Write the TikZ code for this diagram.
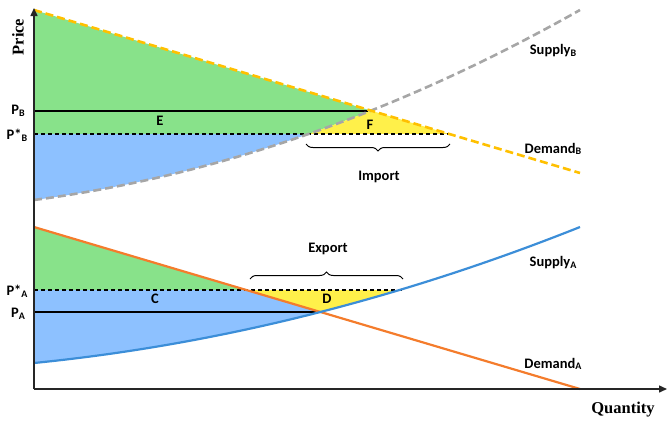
\documentclass[tikz,border=0pt]{standalone}
\usepackage{fontspec}
\setmainfont{Carlito}
\newfontfamily\serifb{Liberation Serif}
\usetikzlibrary{decorations.pathreplacing,arrows.meta}
\definecolor{grn}{HTML}{88E28A}
\definecolor{blu}{HTML}{8DC1FF}
\definecolor{yel}{HTML}{FFF04A}
\definecolor{orgA}{HTML}{F47C2C}
\definecolor{bluA}{HTML}{3C8ED8}
\definecolor{ambB}{HTML}{FFC000}
\definecolor{gryB}{HTML}{A6A6A6}
\newcommand{\sbx}[1]{\raisebox{-0.25ex}{\fontsize{10}{10}\selectfont #1}}
\begin{document}
\begin{tikzpicture}[x=1pt,y=-1pt,
  lab/.style={font=\bfseries\fontsize{14.5}{15}\selectfont, inner sep=1pt},
  axlab/.style={font=\serifb\bfseries\fontsize{16.5}{17}\selectfont, inner sep=1pt},
  pline/.style={line width=1.2pt, black},
  pstar/.style={line width=1.2pt, black, dash pattern=on 4pt off 3pt},
  bracestyle/.style={line width=1pt, black, decorate, decoration={brace, amplitude=7pt}},
  axis/.style={line width=1.5pt, black!85, -{Triangle[length=8pt,width=7pt]}}
]
\useasboundingbox (0,0) rectangle (667,421);

% ---------- key coordinates ----------
\coordinate (O) at (34,389);
\coordinate (Ytop) at (34,8);
\coordinate (Xend) at (667,389);
% market B
\coordinate (DB0) at (34,10);
\coordinate (DB1) at (580,173);
\coordinate (SB0) at (34,200);
\coordinate (SB1) at (580,10);
\coordinate (PBl) at (34,111);
\coordinate (EB) at (368,111);
\coordinate (PSBl) at (34,134);
\coordinate (PSBr) at (450,134);
% market A
\coordinate (DA0) at (34,227);
\coordinate (DA1) at (580,389);
\coordinate (SA0) at (34,363);
\coordinate (SA1) at (580,227);
\coordinate (PAl) at (34,312);
\coordinate (EA) at (323,312);
\coordinate (PSAl) at (34,290);
\coordinate (PSAr) at (403,290);

% ---------- fills market B ----------
\begin{scope}
  \clip (DB0) -- (DB1) -- (580,421) -- (34,421) -- cycle;
  \clip (SB0) .. controls (216,176) and (398,112.7) .. (SB1) -- (580,0) -- (34,0) -- cycle;
  \fill[grn] (34,0) rectangle (580,134);
\end{scope}
\begin{scope}
  \clip (DB0) -- (DB1) -- (580,421) -- (34,421) -- cycle;
  \clip (SB0) .. controls (216,176) and (398,112.7) .. (SB1) -- (580,421) -- (34,421) -- cycle;
  \fill[yel] (34,0) rectangle (580,134);
\end{scope}
\begin{scope}
  \clip (SB0) .. controls (216,176) and (398,112.7) .. (SB1) -- (580,0) -- (34,0) -- cycle;
  \fill[blu] (34,134) rectangle (580,215);
\end{scope}

% ---------- fills market A ----------
\begin{scope}
  \clip (DA0) -- (DA1) -- (580,421) -- (34,421) -- cycle;
  \fill[grn] (34,215) rectangle (580,290);
\end{scope}
\begin{scope}
  \clip (DA0) -- (DA1) -- (580,421) -- (34,421) -- cycle;
  \clip (SA0) .. controls (216,344.8) and (398,299.5) .. (SA1) -- (580,215) -- (34,215) -- cycle;
  \fill[blu] (34,290) rectangle (580,389);
\end{scope}
\begin{scope}
  \clip (DA0) -- (DA1) -- (580,215) -- (34,215) -- cycle;
  \clip (SA0) .. controls (216,344.8) and (398,299.5) .. (SA1) -- (580,215) -- (34,215) -- cycle;
  \fill[yel] (34,290) rectangle (580,389);
\end{scope}

% ---------- price lines ----------
\draw[pline] (PBl) -- (EB);
\draw[pstar] (PSBl) -- (PSBr);
\draw[pline] (PAl) -- (EA);
\draw[pstar] (PSAl) -- (PSAr);

% ---------- curves ----------
\draw[gryB, line width=2.6pt, dash pattern=on 8pt off 4pt] (SB0) .. controls (216,176) and (398,112.7) .. (SB1);
\draw[ambB, line width=2.6pt, dash pattern=on 8pt off 4pt] (DB0) -- (DB1);
\draw[orgA, line width=2.2pt] (DA0) -- (DA1);
\draw[bluA, line width=2.2pt] (SA0) .. controls (216,344.8) and (398,299.5) .. (SA1);

% ---------- axes ----------
\draw[axis] (O) -- (Ytop);
\draw[axis] (O) -- (Xend);

% ---------- braces ----------
\coordinate (IBr) at (450,144);
\coordinate (IBl) at (306,144);
\draw[bracestyle] (IBr) -- (IBl);
\coordinate (XBl) at (250,279);
\coordinate (XBr) at (403,279);
\draw[bracestyle] (XBl) -- (XBr);

% ---------- labels ----------
\node[axlab, rotate=90] (price) at (18,37) {Price};
\node[axlab] (qty) at (623,410) {Quantity};
\node[lab] (lPB) at (18,111) {P\sbx{B}};
\node[lab] (lPSB) at (17,135) {P*\sbx{B}};
\node[lab] (lPSA) at (17,291) {P*\sbx{A}};
\node[lab] (lPA) at (18,314) {P\sbx{A}};
\node[lab] (lE) at (160,121) {E};
\node[lab] (lF) at (370,125) {F};
\node[lab] (lC) at (155,299) {C};
\node[lab] (lD) at (327,299) {D};
\node[lab] (lImp) at (379,177) {Import};
\node[lab] (lExp) at (328,249) {Export};
\node[lab] (lSB) at (553,51) {Supply\sbx{B}};
\node[lab] (lDB) at (553,149) {Demand\sbx{B}};
\node[lab] (lSA) at (553,263) {Supply\sbx{A}};
\node[lab] (lDA) at (553,364) {Demand\sbx{A}};
\end{tikzpicture}
\end{document}
